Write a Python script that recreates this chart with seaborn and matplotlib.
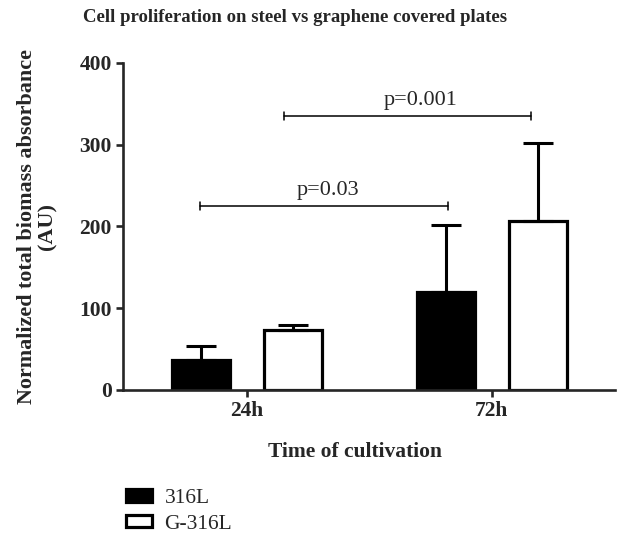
import pandas
import numpy
import matplotlib
matplotlib.use('Agg')
import matplotlib.pyplot as plt
from matplotlib.patches import Patch
import seaborn

# values
times = ['24h', '72h']
steel_mean = [37, 120]
steel_sd = [17, 82]
graphene_mean = [73, 207]
graphene_sd = [7, 95]
groups = ['316L', 'G-316L']
y_ticks = [0, 100, 200, 300, 400]

# significance brackets: (start x, end x, height, label x, label)
brackets = [(-0.19, 0.82, 225, 0.33, 'p=0.03'),
            (0.15, 1.16, 335, 0.71, 'p=0.001')]

df = pandas.DataFrame({
    'time': times * 2,
    'group': [groups[0]] * 2 + [groups[1]] * 2,
    'value': steel_mean + graphene_mean,
    'sd': steel_sd + graphene_sd,
})

seaborn.set_style('ticks')
plt.rcParams['font.family'] = ['Liberation Serif', 'DejaVu Serif']

fig = plt.figure(figsize=(6.3, 5.43), dpi=100)
ax = fig.add_axes([0.195, 0.2818, 0.781, 0.6022])

seaborn.barplot(data=df, x='time', y='value', hue='group', hue_order=groups,
                palette={'316L': 'black', 'G-316L': 'white'}, edgecolor='black',
                linewidth=2.3, width=0.75, gap=0.37, errorbar=None, legend=False, ax=ax)

# upward-only error bars at each bar centre
for container, grp in zip(ax.containers, groups):
    sub = df[df['group'] == grp].set_index('time').loc[times]
    xs = [p.get_x() + p.get_width() / 2 for p in container.patches]
    ax.errorbar(xs, sub['value'], yerr=[numpy.zeros(len(xs)), sub['sd']],
                fmt='none', ecolor='black', elinewidth=2.2, capsize=10.5, capthick=2.2, zorder=1)

for x0, x1, h, tx, label in brackets:
    ax.plot([x0, x1], [h, h], color='black', lw=1.1)
    ax.plot([x0, x0], [h - 5, h + 5], color='black', lw=1.1)
    ax.plot([x1, x1], [h - 5, h + 5], color='black', lw=1.1)
    ax.text(tx, h + 8, label, ha='center', va='bottom', fontsize=16)

ax.set_xlim(-0.506, 1.502)
ax.set_ylim(0, 400)
ax.set_yticks(y_ticks)
seaborn.despine(ax=ax, top=True, right=True)
for s in ['left', 'bottom']:
    ax.spines[s].set_linewidth(1.9)
ax.tick_params(axis='both', width=1.9, length=5, labelsize=15.5, pad=3)
for lbl in ax.get_xticklabels() + ax.get_yticklabels():
    lbl.set_fontweight('bold')

ax.set_xlabel('Time of cultivation', fontsize=15.5, fontweight='bold')
ax.xaxis.set_label_coords(0.472, -0.16)
ax.set_ylabel('Normalized total biomass absorbance\n(AU)', fontsize=15.9, fontweight='bold',
              linespacing=1.02)
ax.yaxis.set_label_coords(-0.133, 0.5)
fig.text(0.468, 0.968, 'Cell proliferation on steel vs graphene covered plates',
         ha='center', va='center', fontsize=13.5, fontweight='bold')

handles = [Patch(facecolor='black', edgecolor='black', linewidth=2.3),
           Patch(facecolor='white', edgecolor='black', linewidth=2.3)]
fig.legend(handles, groups, loc='upper left', bbox_to_anchor=(0.186, 0.115), frameon=False,
           fontsize=15.5, handlelength=1.2, handleheight=0.5, labelspacing=0.3, handletextpad=0.6,
           borderaxespad=0)

fig.savefig('out.png', dpi=100)
